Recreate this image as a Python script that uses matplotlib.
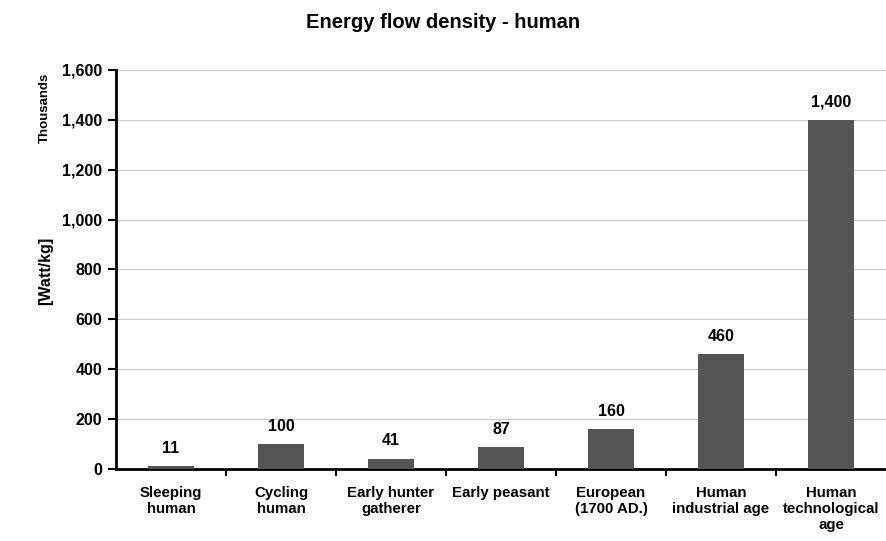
import matplotlib.pyplot as plt
from matplotlib.ticker import FuncFormatter

categories = ['Sleeping\nhuman', 'Cycling\nhuman', 'Early hunter\ngatherer', 'Early peasant',
              'European\n(1700 AD.)', 'Human\nindustrial age', 'Human\ntechnological\nage']
values = [11, 100, 41, 87, 160, 460, 1400]
labels = ['11', '100', '41', '87', '160', '460', '1,400']

plt.rcParams['font.family'] = ['Liberation Sans', 'DejaVu Sans']
plt.rcParams['font.weight'] = 'bold'

fig = plt.figure(figsize=(8.86, 5.41), dpi=100)
ax = fig.add_axes([0.131, 0.133, 0.869, 0.738])

x = range(len(categories))
ax.bar(x, values, width=0.42, color='#555555', zorder=3)
for xi, v, lab in zip(x, values, labels):
    ax.text(xi, v + 42, lab, ha='center', va='bottom', fontsize=11.5, fontweight='bold')

ax.set_xlim(-0.5, len(categories) - 0.5)
ax.set_ylim(0, 1600)
ax.set_yticks(range(0, 1601, 200))
ax.yaxis.set_major_formatter(FuncFormatter(lambda v, p: f'{int(v):,}'))
ax.grid(axis='y', color='#c8c8c8', linewidth=0.8, zorder=0)

ax.set_xticks(list(x))
ax.set_xticklabels(categories, fontsize=10.8, fontweight='bold', linespacing=1.2)
ax.tick_params(axis='x', length=0, pad=12)
ax.set_xticks([i + 0.5 for i in range(len(categories) - 1)], minor=True)
ax.tick_params(axis='x', which='minor', length=5, width=1.5, direction='out')
ax.tick_params(axis='y', length=6, width=1.5, direction='out', labelsize=11.5, pad=4)
for t in ax.get_yticklabels():
    t.set_fontweight('bold')

for s in ['top', 'right']:
    ax.spines[s].set_visible(False)
for s in ['left', 'bottom']:
    ax.spines[s].set_linewidth(2)

fig.text(0.5, 0.958, 'Energy flow density - human', ha='center', va='center',
         fontsize=14.5, fontweight='bold')
fig.text(0.051, 0.5, '[Watt/kg]', rotation=90, ha='center', va='center', fontsize=11.5, fontweight='bold')
fig.text(0.051, 0.8, 'Thousands', rotation=90, ha='center', va='center', fontsize=9.5, fontweight='bold')

fig.savefig('out.png', dpi=100)
